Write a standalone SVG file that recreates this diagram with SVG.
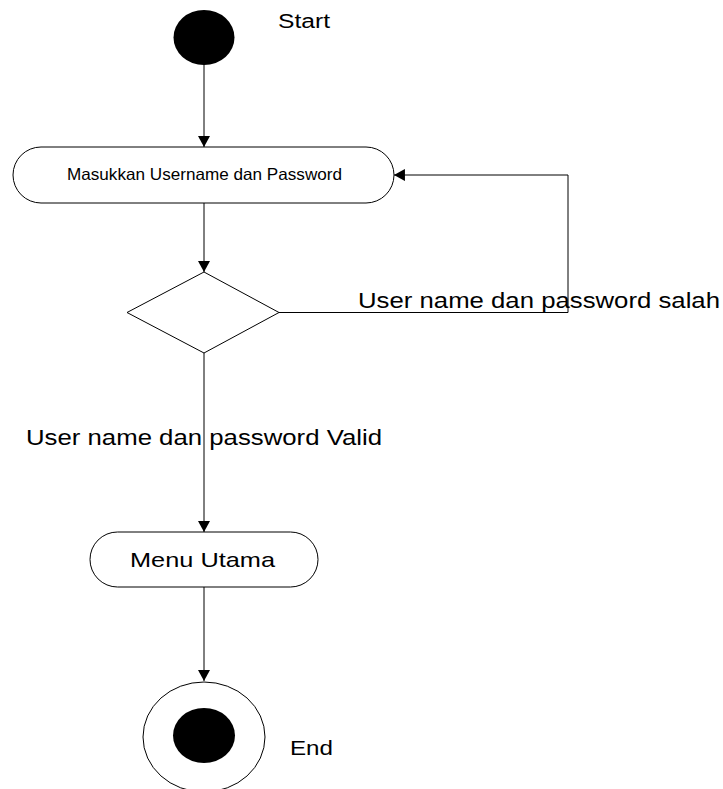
<svg xmlns="http://www.w3.org/2000/svg" width="723" height="789" viewBox="0 0 723 789">
<style>
.ln{fill:none;stroke:#000;stroke-width:1}
.nd{fill:#fff;stroke:#000;stroke-width:1}
.t{font-family:"Liberation Sans",Arial,sans-serif;fill:#000}
</style>
<defs>
<marker id="ah" markerUnits="userSpaceOnUse" markerWidth="12" markerHeight="12" viewBox="0 0 10 11" refX="10" refY="5.5" orient="auto">
<path d="M0,0 L10,5.5 L0,11 Z" fill="#000"/>
</marker>
</defs>
<rect width="723" height="789" fill="#fff"/>
<g id="connectors">
<line class="ln" x1="204" y1="64" x2="204" y2="147" marker-end="url(#ah)"/>
<line class="ln" x1="204" y1="203" x2="204" y2="272" marker-end="url(#ah)"/>
<polyline class="ln" points="279,312.5 568,312.5 568,175 394,175" marker-end="url(#ah)"/>
<line class="ln" x1="204" y1="353" x2="204" y2="532" marker-end="url(#ah)"/>
<line class="ln" x1="204" y1="587" x2="204" y2="681" marker-end="url(#ah)"/>
</g>
<g id="start">
<ellipse cx="204" cy="37.5" rx="30.5" ry="27.5" fill="#000"/>
<text class="t" x="278" y="28" font-size="20" textLength="52" lengthAdjust="spacingAndGlyphs">Start</text>
</g>
<g id="masukkan">
<rect class="nd" x="13" y="147" width="381" height="56" rx="28" ry="28"/>
<text class="t" x="67" y="180" font-size="16.5" textLength="275" lengthAdjust="spacingAndGlyphs">Masukkan Username dan Password</text>
</g>
<g id="decision">
<polygon class="nd" points="204,272 279,312.5 204,353 127,312.5"/>
</g>
<g id="label-salah">
<text class="t" x="358" y="308" font-size="22.5" textLength="362" lengthAdjust="spacingAndGlyphs">User name dan password salah</text>
</g>
<g id="label-valid">
<text class="t" x="26" y="445" font-size="22.5" textLength="356" lengthAdjust="spacingAndGlyphs">User name dan password Valid</text>
</g>
<g id="menu">
<rect class="nd" x="90" y="532" width="228" height="55" rx="27.5" ry="27.5"/>
<text class="t" x="130" y="567" font-size="21" textLength="145" lengthAdjust="spacingAndGlyphs">Menu Utama</text>
</g>
<g id="end">
<ellipse class="nd" cx="204" cy="737" rx="61" ry="55"/>
<ellipse cx="204" cy="735.5" rx="31" ry="27.5" fill="#000"/>
<text class="t" x="290" y="755" font-size="21" textLength="43" lengthAdjust="spacingAndGlyphs">End</text>
</g>
</svg>
